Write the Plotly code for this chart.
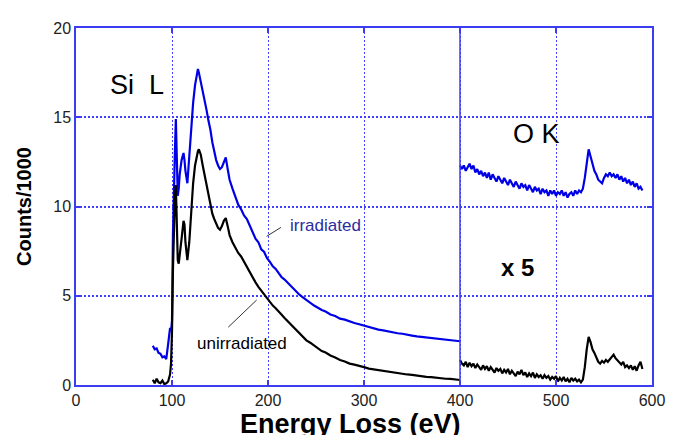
import plotly.graph_objects as go

# ---- Si L edge region (0-400 eV) ----
si_energy = [80, 82, 84, 86, 88, 90, 92, 94, 96, 98, 99, 100, 101, 102, 103, 104, 105, 106, 107, 108,
             110, 112, 113, 114, 116, 118, 120, 122, 124, 126, 127, 128, 130, 132, 134, 136, 138, 140,
             142, 144, 146, 148, 150, 152, 154, 156, 158, 160, 163, 166, 169, 172, 175, 178, 181, 184,
             187, 190, 193, 196, 199, 202, 205, 208, 211, 214, 217, 220, 224, 228, 232, 236, 240, 244,
             248, 252, 256, 260, 265, 270, 275, 280, 285, 290, 295, 300, 305, 310, 315, 320, 325, 330,
             335, 340, 345, 350, 355, 360, 365, 370, 375, 380, 385, 390, 395, 400]

si_irradiated = [2.2, 2.0, 2.05, 1.8, 1.75, 1.55, 1.6, 1.45, 2.3, 3.2, 3.0, 3.6, 8.5, 11.5, 13.0, 14.9, 12.0, 10.6, 11.0, 11.8,
                 12.6, 13.0, 12.6, 12.0, 11.3, 13.0, 14.5, 15.8, 16.8, 17.4, 17.7, 17.5, 17.0, 16.4, 15.9, 15.4, 14.8, 14.3,
                 13.6, 13.0, 12.6, 12.3, 12.1, 12.2, 12.5, 12.75, 12.1, 11.5, 11.0, 10.55, 10.1, 9.85, 9.5, 9.3, 8.9, 8.55,
                 8.2, 8.0, 7.6, 7.45, 7.1, 6.9, 6.65, 6.5, 6.25, 6.05, 5.92, 5.75, 5.5, 5.32, 5.1, 4.92, 4.75, 4.62,
                 4.45, 4.33, 4.2, 4.12, 3.95, 3.87, 3.72, 3.66, 3.55, 3.47, 3.4, 3.32, 3.25, 3.17, 3.1, 3.06, 3.0, 2.96,
                 2.9, 2.87, 2.8, 2.77, 2.72, 2.69, 2.65, 2.63, 2.58, 2.57, 2.52, 2.51, 2.48, 2.45]

si_unirradiated = [0.3, 0.1, 0.35, 0.15, 0.1, 0.25, 0.05, 0.1, 0.2, 0.6, 1.2, 3.0, 6.5, 9.0, 10.5, 11.2, 8.5, 7.0, 6.8, 7.2,
                   8.2, 9.2, 9.0, 8.0, 7.0, 8.0, 10.0, 11.3, 12.3, 12.9, 13.1, 13.2, 12.9, 12.3, 11.8, 11.2, 10.6, 10.1,
                   9.6, 9.3, 9.0, 8.8, 8.7, 8.9, 9.2, 9.35, 8.9, 8.4, 8.0, 7.7, 7.4, 7.2, 6.9, 6.6, 6.3, 6.0,
                   5.75, 5.5, 5.28, 5.05, 4.85, 4.67, 4.45, 4.3, 4.1, 3.95, 3.77, 3.6, 3.35, 3.12, 2.9, 2.72, 2.5, 2.37,
                   2.2, 2.07, 1.9, 1.82, 1.65, 1.54, 1.4, 1.32, 1.2, 1.14, 1.05, 1.0, 0.92, 0.88, 0.8, 0.77, 0.72, 0.69,
                   0.65, 0.63, 0.59, 0.57, 0.52, 0.5, 0.46, 0.44, 0.4, 0.39, 0.35, 0.34, 0.3, 0.28]

# ---- O K edge region (400-590 eV), x5 ----
ok_energy = list(range(400, 592, 2))

ok_irradiated = [12.3, 12.1, 12.3, 12.0, 12.2, 12.4, 12.1, 12.3, 11.9, 12.1, 11.8, 12.0, 11.7, 11.9, 11.6, 11.9,
                 11.5, 11.8, 11.6, 11.4, 11.7, 11.5, 11.3, 11.6, 11.4, 11.2, 11.5, 11.3, 11.1, 11.4, 11.2, 11.0,
                 11.3, 11.1, 11.2, 10.9, 11.2, 11.0, 10.8, 11.1, 10.9, 11.0, 10.7, 11.0, 10.8, 10.9, 10.6, 10.9,
                 10.7, 10.9, 10.6, 10.8, 10.7, 10.9, 10.6, 10.8, 10.5, 10.7, 10.8, 10.6, 10.9, 10.7, 10.9, 10.8,
                 11.0, 11.6, 12.5, 13.2, 12.8, 12.3, 12.0, 11.8, 11.5, 11.4, 11.3, 11.6, 11.8, 11.7, 11.9, 11.7,
                 11.8, 11.6, 11.8, 11.5, 11.7, 11.4, 11.6, 11.3, 11.5, 11.2, 11.4, 11.1, 11.3, 11.0, 11.1, 10.9]

ok_unirradiated = [1.4, 1.2, 1.1, 1.3, 1.0, 1.25, 1.05, 1.2, 0.95, 1.15, 1.0, 0.85, 1.1, 0.9, 1.05, 0.8,
                   1.0, 0.85, 0.7, 0.95, 0.8, 0.9, 0.65, 0.85, 0.7, 0.9, 0.6, 0.8, 0.65, 0.5, 0.75, 0.6,
                   0.85, 0.55, 0.7, 0.45, 0.65, 0.5, 0.7, 0.4, 0.6, 0.45, 0.55, 0.35, 0.55, 0.4, 0.5, 0.3,
                   0.45, 0.35, 0.5, 0.2, 0.4, 0.25, 0.45, 0.2, 0.35, 0.15, 0.4, 0.25, 0.35, 0.2, 0.3, 0.15,
                   0.3, 1.0, 2.0, 2.7, 2.4, 2.0, 1.8, 1.5, 1.3, 1.2, 1.35, 1.25, 1.4, 1.3, 1.45, 1.6,
                   1.7, 1.5, 1.4, 1.3, 1.15, 1.3, 1.0, 1.1, 0.95, 1.1, 0.85, 1.05, 0.8, 1.1, 1.3, 0.9]

x_ticks = [0, 100, 200, 300, 400, 500, 600]
y_ticks = [0, 5, 10, 15, 20]

BLUE = "#0000e6"
FRAME = "#3c3cf0"
GRID = "#4040ff"
FONT = "Liberation Sans, Arial, sans-serif"

fig = go.Figure()
for xs, ys, col in [(si_energy, si_irradiated, BLUE), (si_energy, si_unirradiated, "black"),
                    (ok_energy, ok_irradiated, BLUE), (ok_energy, ok_unirradiated, "black")]:
    fig.add_trace(go.Scatter(x=xs, y=ys, mode="lines", line=dict(color=col, width=2.2),
                             showlegend=False, hoverinfo="skip"))

axis_common = dict(showline=True, mirror="ticks", linecolor=FRAME, linewidth=1.5,
                   showgrid=True, gridcolor=GRID, griddash="2px,2px",
                   ticks="inside", ticklen=5, tickcolor=FRAME, tickwidth=1.5,
                   zeroline=False, tickfont=dict(family=FONT, size=16, color="#222"))

# page body has an 8px margin, so the figure is sized/offset to put the plot area
# at the reference's pixel position
fig.update_layout(
    width=671, height=427,
    margin=dict(l=68, r=27, t=16, b=50),
    paper_bgcolor="white", plot_bgcolor="white",
    xaxis=dict(range=[0, 600], tickvals=x_ticks, ticktext=[str(v) for v in x_ticks],
               gridwidth=1, **axis_common),
    yaxis=dict(range=[0, 20], tickvals=y_ticks, ticktext=[str(v) for v in y_ticks],
               gridwidth=1.5,
               title=dict(text="<b>Counts/1000</b>", font=dict(family=FONT, size=20, color="black"), standoff=16),
               **axis_common),
)

# separator between panels
fig.add_shape(type="line", x0=400, x1=400, y0=0, y1=20, xref="x", yref="y",
              line=dict(color=FRAME, width=1.5))

# leader lines
fig.add_shape(type="line", x0=198.6, y0=8.33, x1=213.5, y1=8.83, line=dict(color="#333", width=1))
fig.add_shape(type="line", x0=158.6, y0=3.24, x1=188.2, y1=4.76, line=dict(color="#333", width=1))

ann = [
    dict(text="Si  L", x=63.5, y=16.8, font=dict(family=FONT, size=27, color="black")),
    dict(text="O K", x=480, y=14.07, font=dict(family=FONT, size=27, color="black")),
    dict(text="<b>x 5</b>", x=460.4, y=6.6, font=dict(family=FONT, size=24, color="black")),
    dict(text="irradiated", x=259.4, y=8.94, font=dict(family=FONT, size=17, color="#2b2ba0")),
    dict(text="unirradiated", x=172.9, y=2.33, font=dict(family=FONT, size=17, color="black")),
]
for a in ann:
    fig.add_annotation(xref="x", yref="y", showarrow=False, **a)

fig.add_annotation(text="<b>Energy Loss (eV)</b>", xref="paper", yref="paper", x=0.477, y=0,
                   yshift=-22, yanchor="top", showarrow=False,
                   font=dict(family=FONT, size=27, color="black"))

fig.write_html("out.html")
